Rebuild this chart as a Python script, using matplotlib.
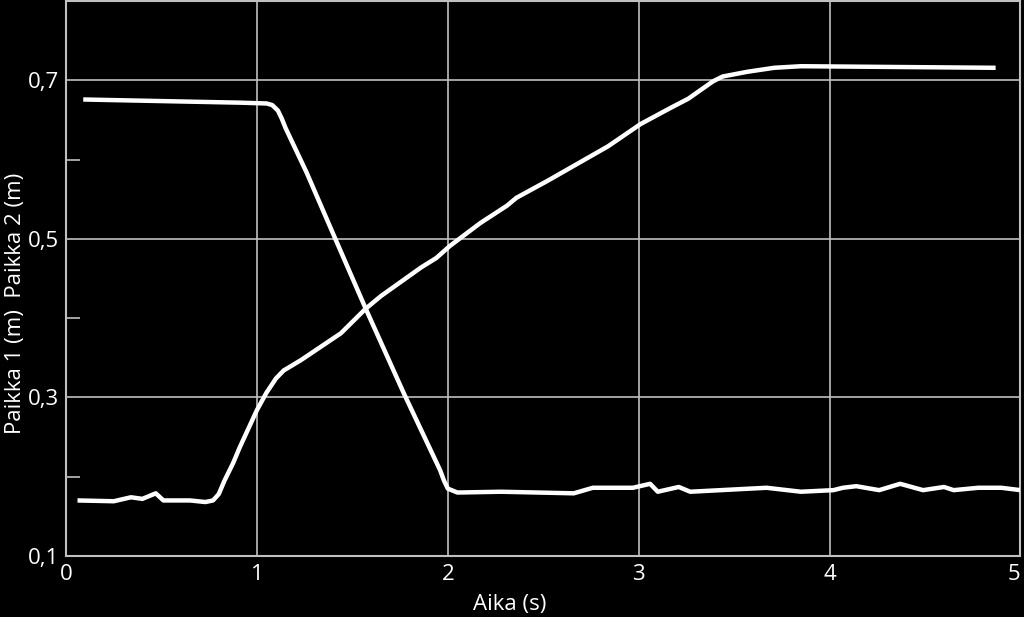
import matplotlib.pyplot as plt
from matplotlib.ticker import FixedLocator

# Paikka 1 (falling curve)
t1 = [0.09, 0.91, 1.05, 1.08, 1.11, 1.13, 1.15, 1.26, 1.42, 1.57, 1.77, 1.96,
      1.98, 2.0, 2.05, 2.28, 2.66, 2.76, 2.97, 3.06, 3.10, 3.21, 3.27, 3.67,
      3.85, 4.02, 4.07, 4.14, 4.26, 4.37, 4.49, 4.60, 4.65, 4.78, 4.90, 5.0]
p1 = [0.676, 0.672, 0.671, 0.669, 0.662, 0.652, 0.640, 0.584, 0.495, 0.412,
      0.305, 0.208, 0.195, 0.185, 0.180, 0.181, 0.179, 0.186, 0.186, 0.191,
      0.181, 0.187, 0.181, 0.186, 0.181, 0.183, 0.186, 0.188, 0.183, 0.191,
      0.183, 0.187, 0.183, 0.186, 0.186, 0.183]

# Paikka 2 (rising curve)
t2 = [0.06, 0.25, 0.34, 0.40, 0.47, 0.51, 0.65, 0.73, 0.77, 0.80, 0.83, 0.875,
      0.91, 1.0, 1.05, 1.10, 1.14, 1.23, 1.44, 1.57, 1.65, 1.86, 1.94, 2.01,
      2.17, 2.31, 2.36, 2.52, 2.84, 3.01, 3.11, 3.18, 3.26, 3.39, 3.44, 3.57,
      3.71, 3.85, 4.87]
p2 = [0.170, 0.169, 0.174, 0.172, 0.179, 0.170, 0.170, 0.168, 0.170, 0.178,
      0.195, 0.217, 0.237, 0.284, 0.306, 0.324, 0.334, 0.347, 0.381, 0.412,
      0.428, 0.464, 0.476, 0.491, 0.520, 0.542, 0.552, 0.573, 0.617, 0.645,
      0.658, 0.667, 0.677, 0.699, 0.705, 0.711, 0.716, 0.718, 0.716]

x_ticks = [0, 1, 2, 3, 4, 5]
y_ticks = [0.1, 0.3, 0.5, 0.7]
y_labels = ["0,1", "0,3", "0,5", "0,7"]
y_minor = [0.2, 0.4, 0.6]

plt.rcParams['font.family'] = ['Open Sans', 'DejaVu Sans']

fig = plt.figure(figsize=(10.24, 6.17), dpi=100, facecolor="black")
ax = fig.add_axes([0.0645, 0.099, 0.932, 0.899])
ax.set_facecolor("black")

grid_col = "#c0c0c0"
for x in x_ticks[1:-1]:
    ax.axvline(x, color=grid_col, lw=1.2, zorder=1)
for y in y_ticks[1:]:
    ax.axhline(y, color=grid_col, lw=1.2, zorder=1)

ax.plot(t1, p1, color="white", lw=3.2, solid_capstyle="butt", solid_joinstyle="round", zorder=3)
ax.plot(t2, p2, color="white", lw=3.2, solid_capstyle="butt", solid_joinstyle="round", zorder=3)

ax.set_xlim(0, 5)
ax.set_ylim(0.1, 0.8)
ax.set_xticks(x_ticks)
ax.set_xticklabels([str(x) for x in x_ticks])
ax.set_yticks(y_ticks)
ax.set_yticklabels(y_labels)
ax.yaxis.set_minor_locator(FixedLocator(y_minor))

ax.tick_params(axis="both", which="major", length=0, labelsize=16, colors="white")
ax.tick_params(axis="x", which="major", pad=6)
ax.tick_params(axis="y", which="major", pad=5)
ax.tick_params(axis="y", which="minor", direction="in", length=10, width=1.2, color=grid_col)
ax.tick_params(axis="x", which="minor", length=0)

# keep the last x label inside the figure
ax.get_xticklabels()[-1].set_horizontalalignment("right")

for s in ax.spines.values():
    s.set_color(grid_col)
    s.set_linewidth(1.5)

ax.set_xlabel("Aika (s)", color="white", fontsize=16)
ax.xaxis.set_label_coords(0.465, -0.068)
ax.set_ylabel("Paikka 1 (m)  Paikka 2 (m)", color="white", fontsize=16)
ax.yaxis.set_label_coords(-0.042, 0.455)

fig.savefig("out.png", dpi=100, facecolor="black")
